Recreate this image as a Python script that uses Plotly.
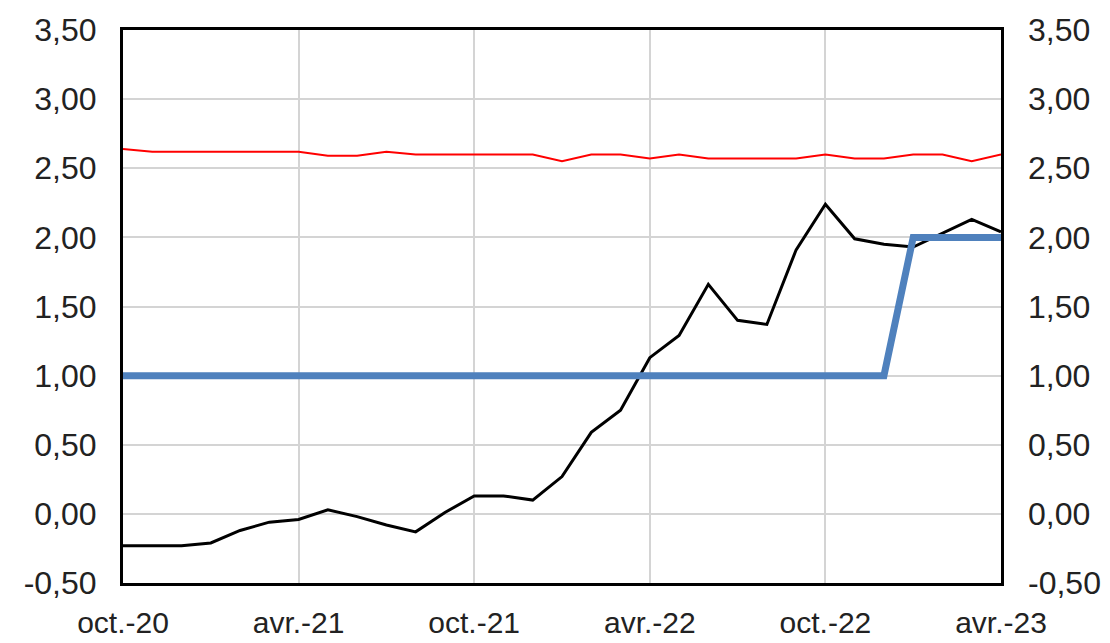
import plotly.graph_objects as go

months = ["oct.-20", "nov.-20", "déc.-20", "janv.-21", "févr.-21", "mars-21", "avr.-21",
          "mai-21", "juin-21", "juil.-21", "août-21", "sept.-21", "oct.-21", "nov.-21",
          "déc.-21", "janv.-22", "févr.-22", "mars-22", "avr.-22", "mai-22", "juin-22",
          "juil.-22", "août-22", "sept.-22", "oct.-22", "nov.-22", "déc.-22", "janv.-23",
          "févr.-23", "mars-23", "avr.-23"]

red_series = [2.64, 2.62, 2.62, 2.62, 2.62, 2.62, 2.62, 2.59, 2.59, 2.62, 2.60, 2.60, 2.60,
              2.60, 2.60, 2.55, 2.60, 2.60, 2.57, 2.60, 2.57, 2.57, 2.57, 2.57, 2.60, 2.57,
              2.57, 2.60, 2.60, 2.55, 2.60]

black_series = [-0.23, -0.23, -0.23, -0.21, -0.12, -0.06, -0.04, 0.03, -0.02, -0.08, -0.13,
                0.01, 0.13, 0.13, 0.10, 0.27, 0.59, 0.75, 1.13, 1.29, 1.66, 1.40, 1.37, 1.91,
                2.24, 1.99, 1.95, 1.93, 2.03, 2.13, 2.04]

blue_series = [1.00] * 27 + [2.00] * 4

x_tick_labels = ["oct.-20", "avr.-21", "oct.-21", "avr.-22", "oct.-22", "avr.-23"]
y_tick_vals = [-0.5, 0.0, 0.5, 1.0, 1.5, 2.0, 2.5, 3.0, 3.5]
y_tick_text = ["-0,50", "0,00", "0,50", "1,00", "1,50", "2,00", "2,50", "3,00", "3,50"]

FONT = dict(family="Liberation Sans, Arial, sans-serif", size=32, color="#222222")
XFONT = dict(family="Liberation Sans, Arial, sans-serif", size=30, color="#222222")

fig = go.Figure()
fig.add_trace(go.Scatter(x=months, y=red_series, mode="lines",
                         line=dict(color="#FF0000", width=2), yaxis="y2"))
fig.add_trace(go.Scatter(x=months, y=black_series, mode="lines",
                         line=dict(color="#000000", width=3)))
fig.add_trace(go.Scatter(x=months, y=blue_series, mode="lines",
                         line=dict(color="#4F81BD", width=7)))

fig.update_layout(
    width=1110, height=643,
    margin=dict(l=123, r=109, t=30, b=60, autoexpand=False),
    paper_bgcolor="white", plot_bgcolor="white",
    showlegend=False,
    font=FONT,
    xaxis=dict(type="category", categoryorder="array", categoryarray=months,
               range=[0, len(months) - 1], automargin=False,
               tickmode="array", tickvals=x_tick_labels, ticktext=x_tick_labels,
               showgrid=True, gridcolor="#d4d4d4", gridwidth=2,
               showline=True, linecolor="#000000", linewidth=3, mirror=True,
               ticks="", ticklabelstandoff=11, tickfont=XFONT, zeroline=False),
    yaxis=dict(range=[-0.5, 3.5], automargin=False,
               tickmode="array", tickvals=y_tick_vals, ticktext=y_tick_text,
               showgrid=True, gridcolor="#d4d4d4", gridwidth=2,
               showline=True, linecolor="#000000", linewidth=3, mirror=True,
               ticks="", ticklabelstandoff=17, tickfont=FONT, zeroline=False),
    yaxis2=dict(range=[-0.5, 3.5], overlaying="y", side="right", automargin=False,
                tickmode="array", tickvals=y_tick_vals, ticktext=y_tick_text,
                showgrid=False, showline=False, ticks="", ticklabelstandoff=26,
                tickfont=FONT, zeroline=False),
)

fig.write_html("out.html", config={"displayModeBar": False},
               post_script="document.body.style.margin='0';document.body.style.overflow='hidden';")
